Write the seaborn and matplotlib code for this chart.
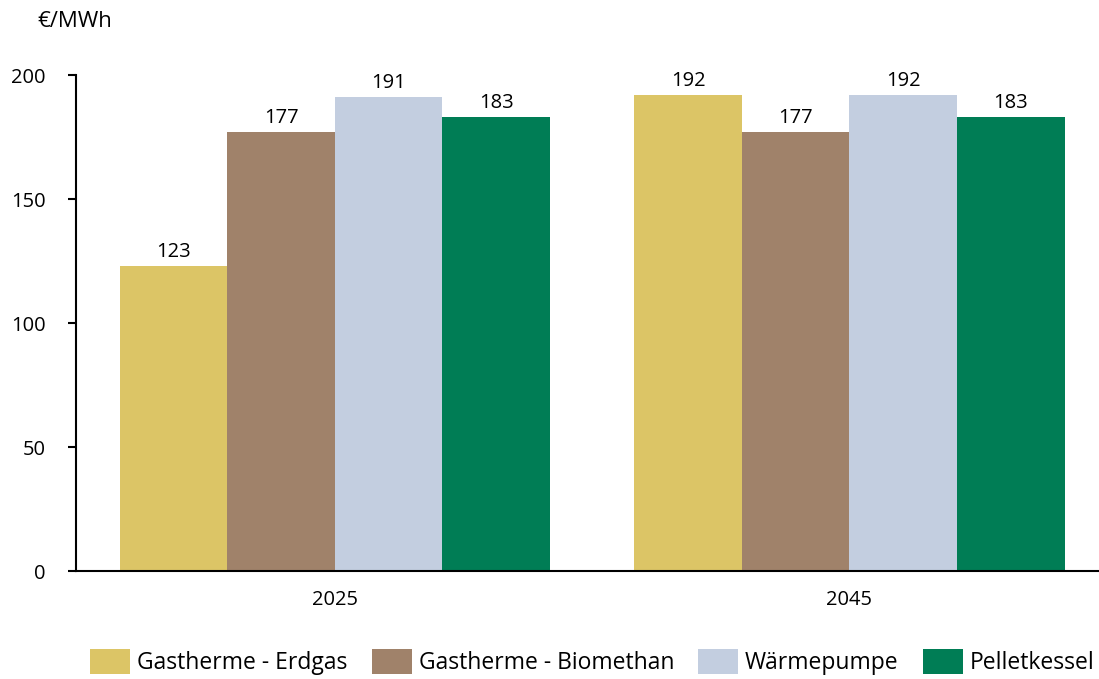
import pandas as pd
import seaborn as sns
import matplotlib.pyplot as plt

# Daten
jahre = ['2025', '2045']
technologien = ['Gastherme - Erdgas', 'Gastherme - Biomethan', 'Wärmepumpe', 'Pelletkessel']
werte_2025 = [123, 177, 191, 183]
werte_2045 = [192, 177, 192, 183]
farben = ['#DCC566', '#A0826A', '#C3CEE0', '#007D55']

df = pd.DataFrame({
    'jahr': [j for j in jahre for _ in technologien],
    'technologie': technologien * 2,
    'wert': werte_2025 + werte_2045,
})

sns.set_style('white')
plt.rcParams['font.family'] = ['Open Sans', 'DejaVu Sans']
plt.rcParams['text.color'] = 'black'
plt.rcParams['xtick.color'] = 'black'
plt.rcParams['ytick.color'] = 'black'

fig = plt.figure(figsize=(10.99, 6.79), dpi=100)
ax = fig.add_axes([0.0692, 0.159, 0.9308, 0.7305])

sns.barplot(data=df, x='jahr', y='wert', hue='technologie', palette=farben,
            width=0.836, gap=0, saturation=1, linewidth=0, ax=ax, legend=True)

for cont in ax.containers:
    ax.bar_label(cont, fmt='%d', padding=3, fontsize=14.5, color='black')

ax.set_ylim(0, 200)
ax.set_xlim(-0.503, 1.485)
ax.set_yticks([0, 50, 100, 150, 200])
ax.set_xlabel('')
ax.set_ylabel('')
ax.tick_params(axis='y', labelsize=14.5, length=6, width=1.5, direction='out', left=True, pad=16)
ax.tick_params(axis='x', labelsize=14.5, length=0, pad=14)
sns.despine(ax=ax)
for s in ['left', 'bottom']:
    ax.spines[s].set_linewidth(1.5)
    ax.spines[s].set_color('black')

fig.text(0.034, 0.968, '€/MWh', fontsize=16, va='center', ha='left')

ax.get_legend().remove()
handles, labels = ax.get_legend_handles_labels()
fig.legend(handles[:4], labels[:4], loc='center', bbox_to_anchor=(0.539, 0.025),
           ncol=4, frameon=False, fontsize=16.5, handlelength=1.75, handleheight=1.3,
           handletextpad=0.3, columnspacing=1.05, borderaxespad=0)

fig.savefig('out.png', dpi=100)
